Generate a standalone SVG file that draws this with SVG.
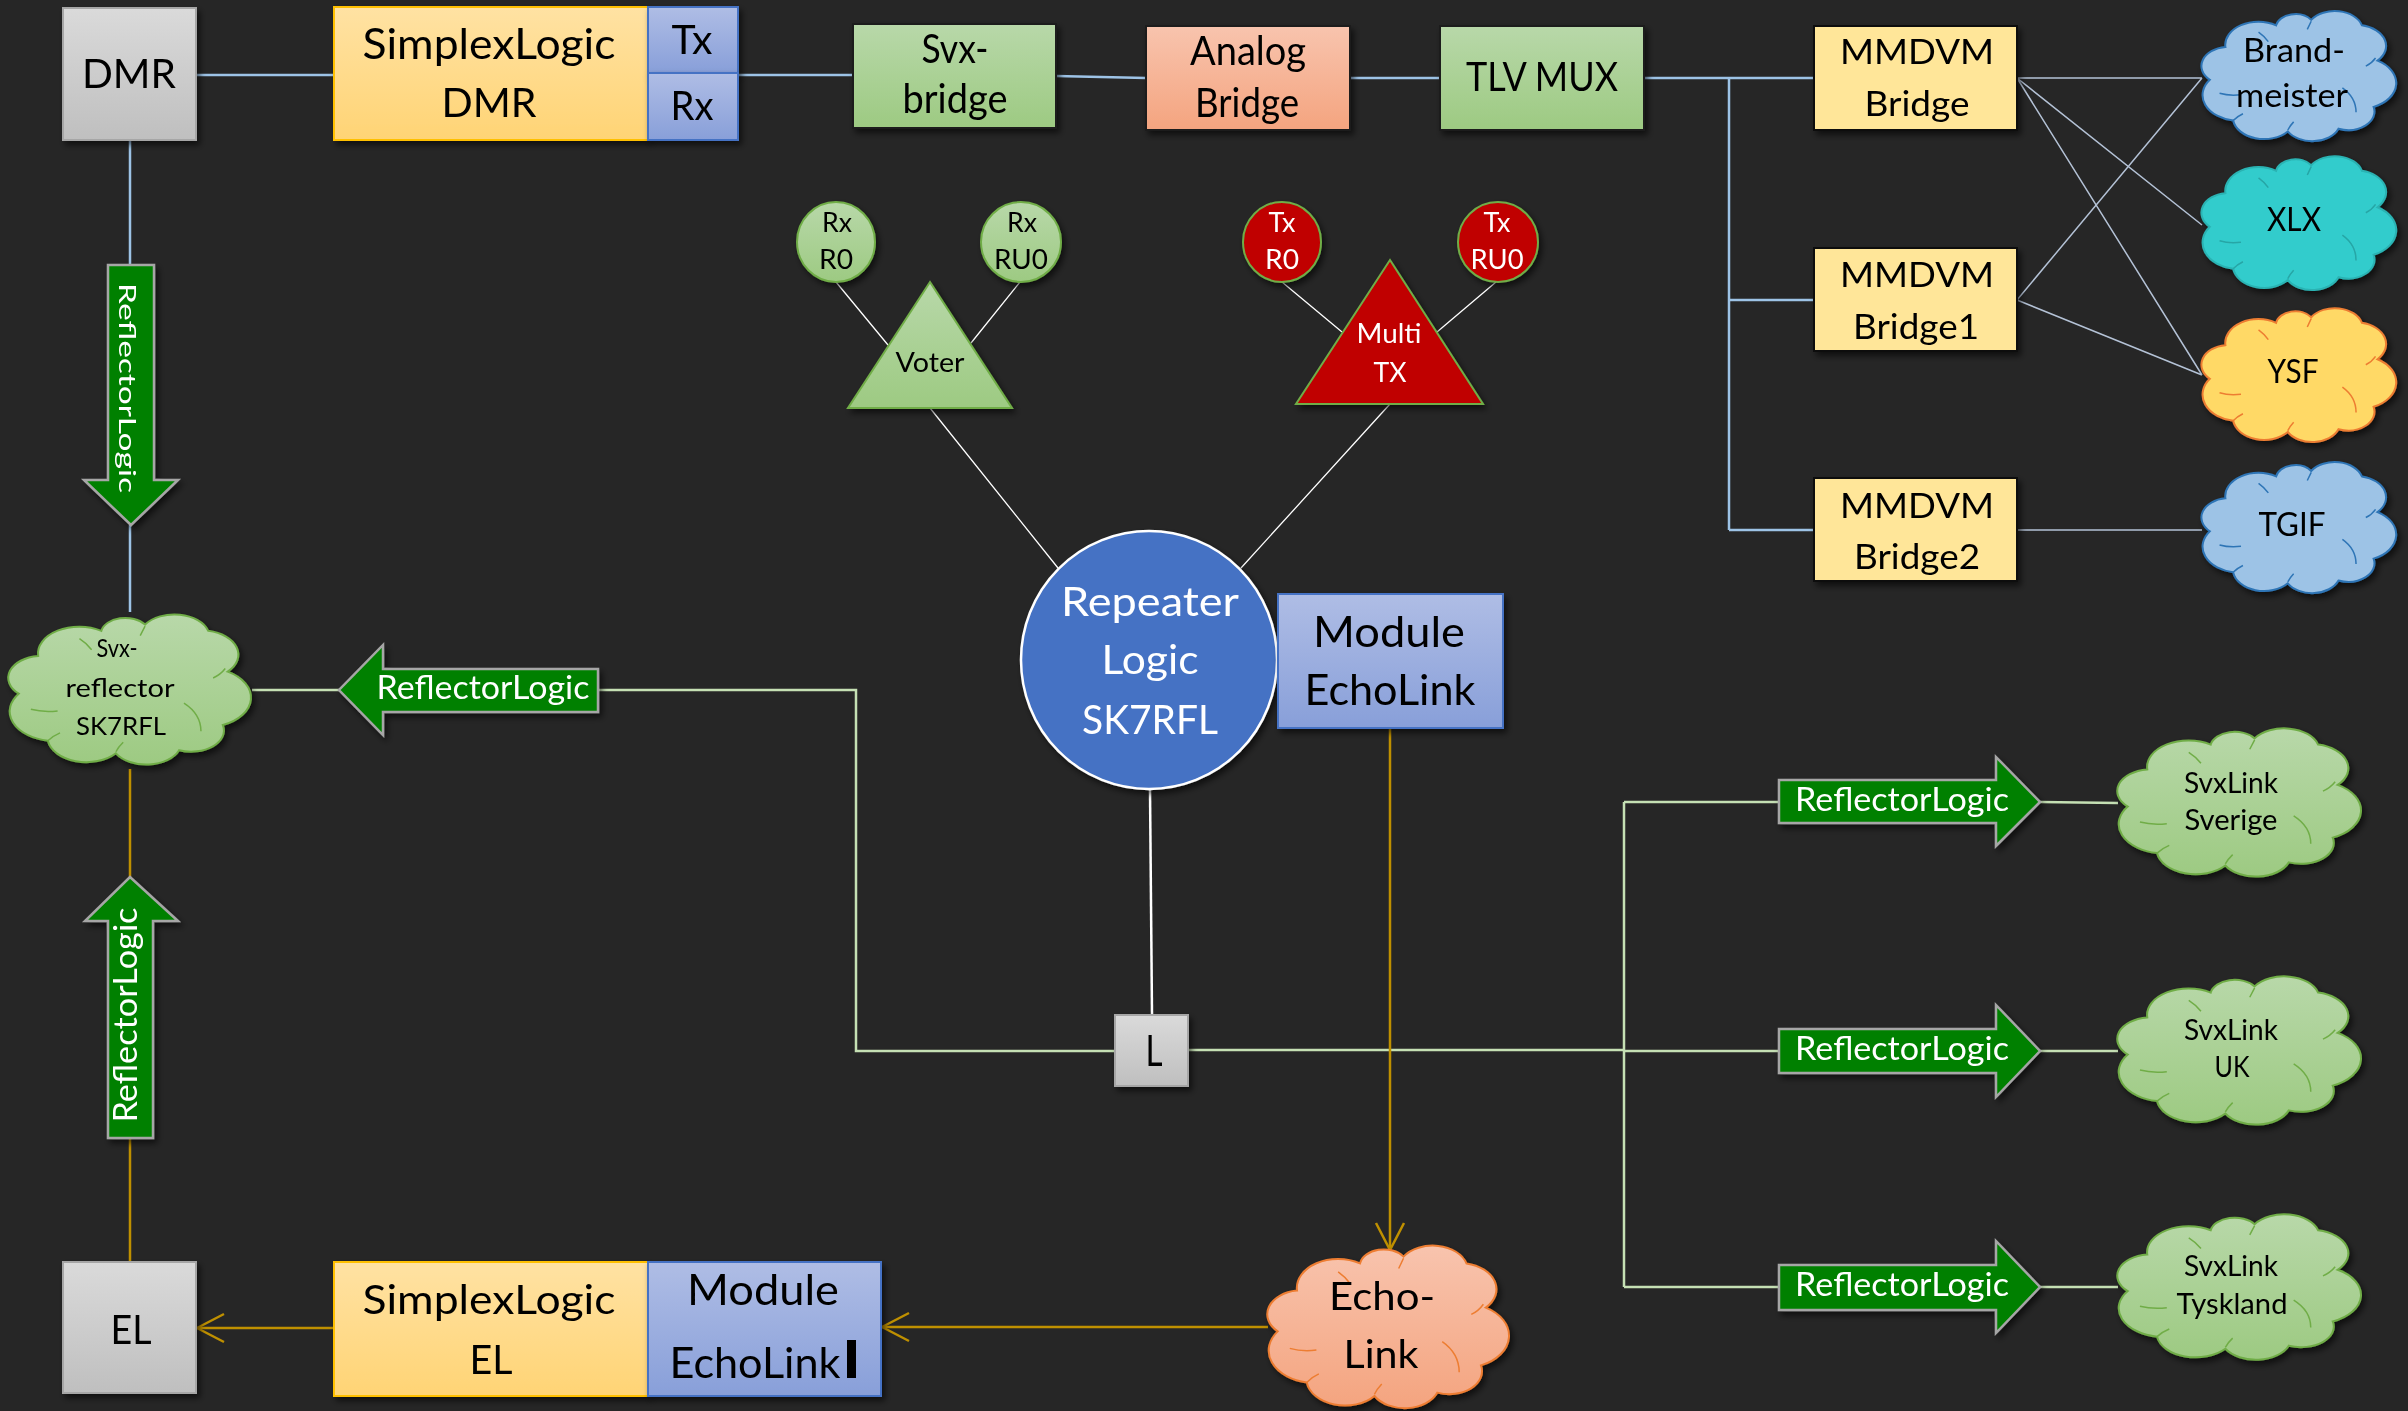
<svg xmlns="http://www.w3.org/2000/svg" xmlns:xlink="http://www.w3.org/1999/xlink" width="2408" height="1411" viewBox="0 0 2408 1411">
<style>
.t{font-family:Lato,"Liberation Sans",sans-serif;text-anchor:middle;fill:#000}
.w{fill:#fff}
.cb{stroke:#9dc3e6;stroke-width:2.5;fill:none}
.ct{stroke:#b4c2d6;stroke-width:1.5;fill:none}
.cw{stroke:#ffffff;stroke-width:1.3;fill:none}
.cg{stroke:#c5e0b4;stroke-width:2.5;fill:none}
.co{stroke:#bf9000;stroke-width:2.5;fill:none}
.gray{fill:url(#gGray);stroke:#a6a6a6;stroke-width:2}
.yel{fill:url(#gYel);stroke:#ffc000;stroke-width:2}
.blu{fill:url(#gBlu);stroke:#4472c4;stroke-width:2}
.grn{fill:url(#gGrn);stroke:#1a1a1a;stroke-width:2}
.sal{fill:url(#gSal);stroke:#1a1a1a;stroke-width:2}
.mm{fill:#ffe699;stroke:#0d0d0d;stroke-width:2}
.arr{fill:#008000;stroke:#a6a6a6;stroke-width:2.5}
</style>
<defs>
<linearGradient id="gGray" x1="0" y1="0" x2="0" y2="1"><stop offset="0" stop-color="#dadada"/><stop offset="1" stop-color="#bfbfbf"/></linearGradient>
<linearGradient id="gYel" x1="0" y1="0" x2="0" y2="1"><stop offset="0" stop-color="#ffe2a3"/><stop offset="1" stop-color="#ffd475"/></linearGradient>
<linearGradient id="gBlu" x1="0" y1="0" x2="0" y2="1"><stop offset="0" stop-color="#afbde5"/><stop offset="1" stop-color="#889fd9"/></linearGradient>
<linearGradient id="gGrn" x1="0" y1="0" x2="0" y2="1"><stop offset="0" stop-color="#b8d8a9"/><stop offset="1" stop-color="#9dca82"/></linearGradient>
<linearGradient id="gSal" x1="0" y1="0" x2="0" y2="1"><stop offset="0" stop-color="#f8c4ae"/><stop offset="1" stop-color="#f4a47f"/></linearGradient>
<filter id="sh" x="-10%" y="-10%" width="130%" height="130%"><feDropShadow dx="3" dy="4" stdDeviation="3" flood-color="#000" flood-opacity="0.6"/></filter>
<path id="cloud" vector-effect="non-scaling-stroke" d="M4,52 A14,14 0 0 1 12,28 A17,17 0 0 1 38,12 A10,10 0 0 1 56,8 A14.5,14.5 0 0 1 82,12 A15.5,15.5 0 0 1 90,38 A19,19 0 0 1 88,72 A13.5,13.5 0 0 1 70,88 A14.5,14.5 0 0 1 44,90 A16,16 0 0 1 16,82 A19,19 0 0 1 4,52 Z"/>
<path id="cloudIn" vector-effect="non-scaling-stroke" fill="none" d="M9,62 Q14,64 20,63 M29,17 Q32,20 34,24 M56,9 Q55,12 54,15 M89,36 Q87,40 84,42 M72,58 Q79,65 79,76 M44,89 Q45,86 47,83 M16,82 Q18,79 21,77"/>
<marker id="oa" markerUnits="userSpaceOnUse" markerWidth="32" markerHeight="32" viewBox="-30 -16 32 32" refX="0" refY="0" orient="auto"><path d="M-27,-14 L0,0 L-27,14" fill="none" stroke="#bf9000" stroke-width="2.5"/></marker>
</defs>
<rect x="0" y="0" width="2408" height="1411" fill="#262626"/>

<g id="connectors">
<path class="cb" d="M196,75 H334 M738,75 H853 M1056,76 L1146,78 M1350,78 H1440 M1644,78 H1814 M1729,78 V530 M1729,300 H1814 M1729,530 H1814 M130,140 V265 M130,525 V612"/>
<path class="ct" d="M2017,78 H2202 M2017,78 L2202,225 M2017,78 L2202,375 M2017,300 L2202,78 M2017,300 L2202,375 M2017,530 H2202"/>
<path class="cw" d="M836,282 L888,345 M1020,282 L971,343 M930,408 L1058,568 M1390,404 L1241,568 M1282,282 L1342,332 M1496,282 L1437,332"/>
<path class="cw" style="stroke-width:2.5" d="M1150,790 L1152,1015"/>
<path class="cg" d="M252,690 H339 M598,690 H856 V1051 H1115 M1188,1050 H1624 M1624,802 V1287 M1624,802 H1779 M1624,1051 H1779 M1624,1287 H1779 M2040,802 L2118,803 M2040,1051 H2118 M2040,1287 H2118"/>
<path class="co" d="M130,769 V877 M130,1138 V1262"/>
<path class="co" marker-end="url(#oa)" d="M334,1328 H197"/>
<path class="co" marker-end="url(#oa)" d="M1268,1327 H882"/>
<path class="co" marker-end="url(#oa)" d="M1390,728 V1250"/>
</g>

<g id="dmr" filter="url(#sh)"><rect class="gray" x="63" y="8" width="133" height="132"/><text class="t" x="129" y="88" font-size="41" textLength="94" lengthAdjust="spacingAndGlyphs">DMR</text></g>
<g id="simplex-dmr" filter="url(#sh)"><rect class="yel" x="334" y="7" width="314" height="133"/><text class="t" x="489" y="59" font-size="43" textLength="253" lengthAdjust="spacingAndGlyphs">SimplexLogic</text><text class="t" x="489" y="117" font-size="41" textLength="95" lengthAdjust="spacingAndGlyphs">DMR</text></g>
<g id="tx" filter="url(#sh)"><rect class="blu" x="648" y="7" width="90" height="66"/><text class="t" x="692" y="54" font-size="41" textLength="41" lengthAdjust="spacingAndGlyphs">Tx</text></g>
<g id="rx" filter="url(#sh)"><rect class="blu" x="648" y="73" width="90" height="67"/><text class="t" x="692" y="120" font-size="41" textLength="43" lengthAdjust="spacingAndGlyphs">Rx</text></g>
<g id="svx-bridge" filter="url(#sh)"><rect class="grn" x="853" y="24" width="203" height="104"/><text class="t" x="955" y="63" font-size="40" textLength="67" lengthAdjust="spacingAndGlyphs">Svx-</text><text class="t" x="955" y="113" font-size="40" textLength="105" lengthAdjust="spacingAndGlyphs">bridge</text></g>
<g id="analog-bridge" filter="url(#sh)"><rect class="sal" x="1146" y="26" width="204" height="104"/><text class="t" x="1248" y="65" font-size="40" textLength="116" lengthAdjust="spacingAndGlyphs">Analog</text><text class="t" x="1247" y="117" font-size="40" textLength="104" lengthAdjust="spacingAndGlyphs">Bridge</text></g>
<g id="tlv-mux" filter="url(#sh)"><rect class="grn" x="1440" y="26" width="204" height="104"/><text class="t" x="1542" y="91" font-size="40" textLength="152" lengthAdjust="spacingAndGlyphs">TLV MUX</text></g>
<g id="mmdvm-bridge" filter="url(#sh)"><rect class="mm" x="1814" y="26" width="203" height="104"/><text class="t" x="1917" y="64" font-size="34" textLength="154" lengthAdjust="spacingAndGlyphs">MMDVM</text><text class="t" x="1917" y="116" font-size="34" textLength="105" lengthAdjust="spacingAndGlyphs">Bridge</text></g>
<g id="mmdvm-bridge1" filter="url(#sh)"><rect class="mm" x="1814" y="248" width="203" height="103"/><text class="t" x="1917" y="287" font-size="34" textLength="154" lengthAdjust="spacingAndGlyphs">MMDVM</text><text class="t" x="1916" y="339" font-size="34" textLength="126" lengthAdjust="spacingAndGlyphs">Bridge1</text></g>
<g id="mmdvm-bridge2" filter="url(#sh)"><rect class="mm" x="1814" y="478" width="203" height="103"/><text class="t" x="1917" y="518" font-size="34" textLength="154" lengthAdjust="spacingAndGlyphs">MMDVM</text><text class="t" x="1917" y="569" font-size="34" textLength="126" lengthAdjust="spacingAndGlyphs">Bridge2</text></g>

<g id="brandmeister" filter="url(#sh)"><use href="#cloud" transform="translate(2202,9) scale(1.95,1.36)" fill="#9dc3e6" stroke="#2e75b6" stroke-width="2"/><use href="#cloudIn" transform="translate(2202,9) scale(1.95,1.36)" stroke="#2e75b6" stroke-width="1.5"/><text class="t" x="2294" y="62" font-size="33" textLength="102" lengthAdjust="spacingAndGlyphs">Brand-</text><text class="t" x="2292" y="107" font-size="33" textLength="112" lengthAdjust="spacingAndGlyphs">meister</text></g>
<g id="xlx" filter="url(#sh)"><use href="#cloud" transform="translate(2202,154) scale(1.95,1.4)" fill="#33cccc" stroke="#2ab3b3" stroke-width="2"/><use href="#cloudIn" transform="translate(2202,154) scale(1.95,1.4)" stroke="#26a6a6" stroke-width="1.5"/><text class="t" x="2294" y="231" font-size="33" textLength="54" lengthAdjust="spacingAndGlyphs">XLX</text></g>
<g id="ysf" filter="url(#sh)"><use href="#cloud" transform="translate(2202,306) scale(1.95,1.4)" fill="#ffd966" stroke="#ed7d31" stroke-width="2"/><use href="#cloudIn" transform="translate(2202,306) scale(1.95,1.4)" stroke="#ed7d31" stroke-width="1.5"/><text class="t" x="2293" y="383" font-size="33" textLength="51" lengthAdjust="spacingAndGlyphs">YSF</text></g>
<g id="tgif" filter="url(#sh)"><use href="#cloud" transform="translate(2202,460) scale(1.95,1.37)" fill="#9dc3e6" stroke="#2e75b6" stroke-width="2"/><use href="#cloudIn" transform="translate(2202,460) scale(1.95,1.37)" stroke="#2e75b6" stroke-width="1.5"/><text class="t" x="2292" y="536" font-size="33" textLength="67" lengthAdjust="spacingAndGlyphs">TGIF</text></g>

<g id="rx-r0" filter="url(#sh)"><ellipse cx="836" cy="242" rx="39" ry="40" fill="url(#gGrn)" stroke="#70ad47" stroke-width="2"/><text class="t" x="837" y="232" font-size="26" textLength="30" lengthAdjust="spacingAndGlyphs">Rx</text><text class="t" x="836" y="269" font-size="26" textLength="34" lengthAdjust="spacingAndGlyphs">R0</text></g>
<g id="rx-ru0" filter="url(#sh)"><ellipse cx="1021" cy="242" rx="40" ry="40" fill="url(#gGrn)" stroke="#70ad47" stroke-width="2"/><text class="t" x="1022" y="232" font-size="26" textLength="30" lengthAdjust="spacingAndGlyphs">Rx</text><text class="t" x="1021" y="269" font-size="26" textLength="54" lengthAdjust="spacingAndGlyphs">RU0</text></g>
<g id="tx-r0" filter="url(#sh)"><ellipse cx="1282" cy="242" rx="39" ry="40" fill="#c00000" stroke="#70ad47" stroke-width="2"/><text class="t w" x="1282" y="232" font-size="26" textLength="27" lengthAdjust="spacingAndGlyphs">Tx</text><text class="t w" x="1282" y="269" font-size="26" textLength="34" lengthAdjust="spacingAndGlyphs">R0</text></g>
<g id="tx-ru0" filter="url(#sh)"><ellipse cx="1498" cy="242" rx="40" ry="40" fill="#c00000" stroke="#70ad47" stroke-width="2"/><text class="t w" x="1497" y="232" font-size="26" textLength="27" lengthAdjust="spacingAndGlyphs">Tx</text><text class="t w" x="1497" y="269" font-size="26" textLength="53" lengthAdjust="spacingAndGlyphs">RU0</text></g>
<g id="voter" filter="url(#sh)"><polygon points="930,282 1012,408 848,408" fill="url(#gGrn)" stroke="#70ad47" stroke-width="2"/><text class="t" x="930" y="372" font-size="26" textLength="69" lengthAdjust="spacingAndGlyphs">Voter</text></g>
<g id="multi-tx" filter="url(#sh)"><polygon points="1390,260 1483,404 1296,404" fill="#c00000" stroke="#70ad47" stroke-width="2"/><text class="t w" x="1389" y="343" font-size="27" textLength="65" lengthAdjust="spacingAndGlyphs">Multi</text><text class="t w" x="1390" y="382" font-size="27" textLength="33" lengthAdjust="spacingAndGlyphs">TX</text></g>

<g id="repeater-logic" filter="url(#sh)"><ellipse cx="1149" cy="660" rx="128" ry="129" fill="#4472c4" stroke="#ffffff" stroke-width="2.5"/><text class="t w" x="1150" y="616" font-size="40" textLength="178" lengthAdjust="spacingAndGlyphs">Repeater</text><text class="t w" x="1150" y="674" font-size="40" textLength="97" lengthAdjust="spacingAndGlyphs">Logic</text><text class="t w" x="1150" y="734" font-size="40" textLength="136" lengthAdjust="spacingAndGlyphs">SK7RFL</text></g>
<g id="module-echolink" filter="url(#sh)"><rect class="blu" x="1278" y="594" width="225" height="134"/><text class="t" x="1389" y="647" font-size="43" textLength="152" lengthAdjust="spacingAndGlyphs">Module</text><text class="t" x="1390" y="705" font-size="43" textLength="171" lengthAdjust="spacingAndGlyphs">EchoLink</text></g>
<g id="l" filter="url(#sh)"><rect class="gray" x="1115" y="1015" width="73" height="71"/><text class="t" x="1154" y="1066" font-size="43" textLength="17" lengthAdjust="spacingAndGlyphs">L</text></g>

<g id="svx-reflector" filter="url(#sh)"><use href="#cloud" transform="translate(9,612) scale(2.43,1.57)" fill="url(#gGrn)" stroke="#70ad47" stroke-width="2"/><use href="#cloudIn" transform="translate(9,612) scale(2.43,1.57)" stroke="#70ad47" stroke-width="1.5"/><text class="t" x="117" y="657" font-size="25" textLength="41" lengthAdjust="spacingAndGlyphs">Svx-</text><text class="t" x="120" y="697" font-size="25" textLength="109" lengthAdjust="spacingAndGlyphs">reflector</text><text class="t" x="121" y="735" font-size="25" textLength="90" lengthAdjust="spacingAndGlyphs">SK7RFL</text></g>

<g id="arrow-dmr-down" filter="url(#sh)"><polygon class="arr" points="108,265 154,265 154,480 178,480 131,525 84,480 108,480"/><text class="t w" transform="translate(119,388) rotate(90)" font-size="24" textLength="210" lengthAdjust="spacingAndGlyphs">ReflectorLogic</text></g>
<g id="arrow-el-up" filter="url(#sh)"><polygon class="arr" points="108,1138 153,1138 153,921 178,921 130,877 85,921 108,921"/><text class="t w" transform="translate(137,1015) rotate(-90)" font-size="33" textLength="215" lengthAdjust="spacingAndGlyphs">ReflectorLogic</text></g>
<g id="arrow-reflector-left" filter="url(#sh)"><polygon class="arr" points="598,669 383,669 383,645 339,690 383,735 383,712 598,712"/><text class="t w" x="483" y="699" font-size="32" textLength="213" lengthAdjust="spacingAndGlyphs">ReflectorLogic</text></g>
<g id="arrow-sverige" filter="url(#sh)"><polygon class="arr" points="1779,780 1996,780 1996,757 2040,802 1996,846 1996,823 1779,823"/><text class="t w" x="1902" y="811" font-size="32" textLength="214" lengthAdjust="spacingAndGlyphs">ReflectorLogic</text></g>
<g id="arrow-uk" filter="url(#sh)"><polygon class="arr" points="1779,1029 1996,1029 1996,1005 2040,1051 1996,1097 1996,1073 1779,1073"/><text class="t w" x="1902" y="1060" font-size="32" textLength="214" lengthAdjust="spacingAndGlyphs">ReflectorLogic</text></g>
<g id="arrow-tyskland" filter="url(#sh)"><polygon class="arr" points="1779,1265 1996,1265 1996,1241 2040,1287 1996,1333 1996,1310 1779,1310"/><text class="t w" x="1902" y="1296" font-size="32" textLength="214" lengthAdjust="spacingAndGlyphs">ReflectorLogic</text></g>

<g id="svxlink-sverige" filter="url(#sh)"><use href="#cloud" transform="translate(2118,726) scale(2.44,1.55)" fill="url(#gGrn)" stroke="#70ad47" stroke-width="2"/><use href="#cloudIn" transform="translate(2118,726) scale(2.44,1.55)" stroke="#70ad47" stroke-width="1.5"/><text class="t" x="2231" y="793" font-size="28" textLength="94" lengthAdjust="spacingAndGlyphs">SvxLink</text><text class="t" x="2231" y="830" font-size="28" textLength="93" lengthAdjust="spacingAndGlyphs">Sverige</text></g>
<g id="svxlink-uk" filter="url(#sh)"><use href="#cloud" transform="translate(2118,974) scale(2.44,1.55)" fill="url(#gGrn)" stroke="#70ad47" stroke-width="2"/><use href="#cloudIn" transform="translate(2118,974) scale(2.44,1.55)" stroke="#70ad47" stroke-width="1.5"/><text class="t" x="2231" y="1040" font-size="28" textLength="94" lengthAdjust="spacingAndGlyphs">SvxLink</text><text class="t" x="2232" y="1077" font-size="28" textLength="35" lengthAdjust="spacingAndGlyphs">UK</text></g>
<g id="svxlink-tyskland" filter="url(#sh)"><use href="#cloud" transform="translate(2118,1212) scale(2.44,1.52)" fill="url(#gGrn)" stroke="#70ad47" stroke-width="2"/><use href="#cloudIn" transform="translate(2118,1212) scale(2.44,1.52)" stroke="#70ad47" stroke-width="1.5"/><text class="t" x="2231" y="1276" font-size="28" textLength="94" lengthAdjust="spacingAndGlyphs">SvxLink</text><text class="t" x="2232" y="1314" font-size="28" textLength="111" lengthAdjust="spacingAndGlyphs">Tyskland</text></g>

<g id="echo-link" filter="url(#sh)"><use href="#cloud" transform="translate(1268,1243) scale(2.42,1.7)" fill="url(#gSal)" stroke="#ed7d31" stroke-width="2"/><use href="#cloudIn" transform="translate(1268,1243) scale(2.42,1.7)" stroke="#ed7d31" stroke-width="1.5"/><text class="t" x="1382" y="1310" font-size="39" textLength="106" lengthAdjust="spacingAndGlyphs">Echo-</text><text class="t" x="1381" y="1368" font-size="39" textLength="75" lengthAdjust="spacingAndGlyphs">Link</text></g>

<g id="el" filter="url(#sh)"><rect class="gray" x="63" y="1262" width="133" height="131"/><text class="t" x="131" y="1344" font-size="41" textLength="41" lengthAdjust="spacingAndGlyphs">EL</text></g>
<g id="simplex-el" filter="url(#sh)"><rect class="yel" x="334" y="1262" width="314" height="134"/><text class="t" x="489" y="1314" font-size="41" textLength="253" lengthAdjust="spacingAndGlyphs">SimplexLogic</text><text class="t" x="491" y="1374" font-size="41" textLength="43" lengthAdjust="spacingAndGlyphs">EL</text></g>
<g id="module-echolink-el" filter="url(#sh)"><rect class="blu" x="648" y="1262" width="233" height="134"/><text class="t" x="763" y="1305" font-size="42" textLength="152" lengthAdjust="spacingAndGlyphs">Module</text><text class="t" x="755" y="1378" font-size="42" textLength="171" lengthAdjust="spacingAndGlyphs">EchoLink</text><rect x="847" y="1340" width="9" height="38" fill="#000"/></g>
</svg>
